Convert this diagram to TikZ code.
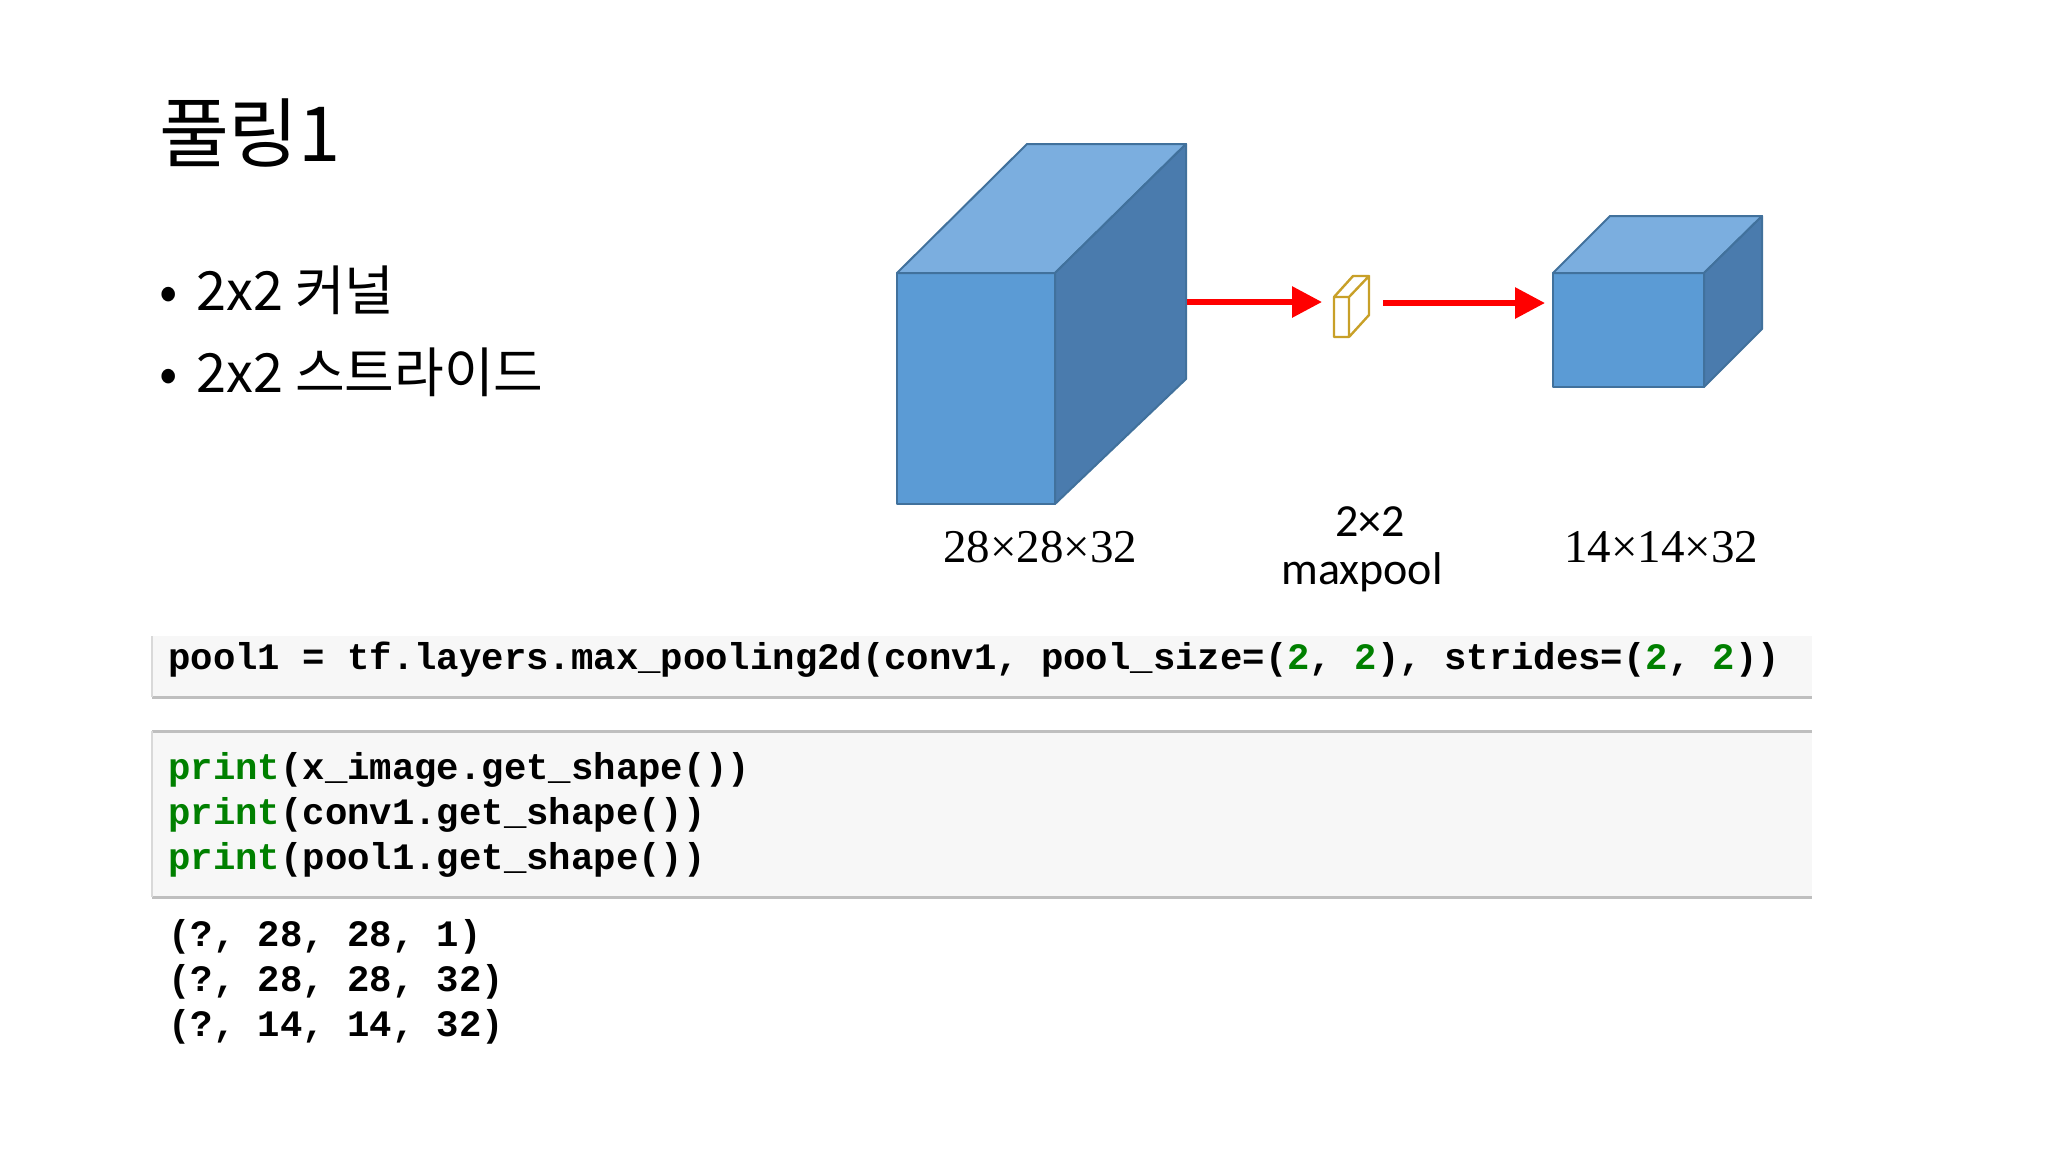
\documentclass[tikz,border=0pt]{standalone}
\usepackage{fontspec}
\setmainfont{Liberation Serif}
\newfontfamily\krfont{Noto Sans CJK KR}
\newfontfamily\calfont{Carlito}
\newfontfamily\monofont{Liberation Mono}
\usetikzlibrary{arrows.meta}
\definecolor{front}{HTML}{5B9BD5}
\definecolor{topc}{HTML}{7BAEDF}
\definecolor{side}{HTML}{4A7BAD}
\definecolor{edge}{HTML}{41719C}
\definecolor{pygreen}{HTML}{008000}
\definecolor{codebg}{HTML}{F7F7F7}
\tikzset{
  face/.style={draw=edge, line width=1pt, line join=round},
  redarrow/.style={draw=red, line width=3pt, -{Triangle[length=15pt,width=15pt]}},
  codetxt/.style={anchor=west, inner sep=0, font=\monofont\bfseries\fontsize{18.65pt}{20pt}\selectfont},
  lab/.style={font=\fontsize{23.5pt}{28pt}\selectfont},
  bul/.style={anchor=west, font=\krfont\fontsize{27pt}{32pt}\selectfont},
}
\begin{document}
\begin{tikzpicture}[x=0.5pt,y=-0.5pt]
\useasboundingbox (0,0) rectangle (2048,1152);
% title and bullets
\node[anchor=west, font=\krfont\fontsize{38pt}{44pt}\selectfont] (title) at (152,133) {풀링1};
\node[bul] (b1) at (152,290) {•\hspace{0.35em}2x2 커널};
\node[bul] (b2) at (152,372) {•\hspace{0.35em}2x2 스트라이드};
% big cube
\fill[front, face] (897,273) rectangle (1055,504);
\fill[topc, face] (897,273) -- (1027,144) -- (1186,144) -- (1055,273) -- cycle;
\fill[side, face] (1055,273) -- (1186,144) -- (1186,379) -- (1055,504) -- cycle;
\coordinate (c1) at (1187,302);
% small kernel box
\draw[draw={rgb,255:red,200;green,160;blue,40}, line width=1.2pt, fill=white, line join=round]
  (1334,297) rectangle (1349,337)
  (1334,297) -- (1353,276) -- (1369,276) -- (1349,297)
  (1349,337) -- (1369,315) -- (1369,276);
\coordinate (k1) at (1322,302);
\coordinate (k2) at (1383,303);
% small cube
\fill[front, face] (1553,273) rectangle (1704,387);
\fill[topc, face] (1553,273) -- (1610,216) -- (1762,216) -- (1704,273) -- cycle;
\fill[side, face] (1704,273) -- (1762,216) -- (1762,329) -- (1704,387) -- cycle;
\coordinate (c2) at (1545,303);
\draw[redarrow] (c1) -- (k1);
\draw[redarrow] (k2) -- (c2);
% labels
\node[lab] (l1) at (1040,547) {28×28×32};
\node[lab, font=\calfont\fontsize{23pt}{27pt}\selectfont] (l2) at (1370,522) {2×2};
\node[lab, font=\calfont\fontsize{23pt}{27pt}\selectfont] (l3) at (1362,572) {maxpool};
\node[lab] (l4) at (1661,547) {14×14×32};
% code cells
\fill[codebg] (152,636) rectangle (1812,697);
\draw[gray!50, line width=1.5pt] (152,697) -- (1812,697);
\draw[gray!30, line width=1pt] (152,636) -- (152,697);
\node[codetxt] (code1) at (168,660) {pool1 = tf.layers.max\_pooling2d(conv1, pool\_size=(\textcolor{pygreen}{2}, \textcolor{pygreen}{2}), strides=(\textcolor{pygreen}{2}, \textcolor{pygreen}{2}))};
\fill[codebg] (152,731) rectangle (1812,897);
\draw[gray!50, line width=1.5pt] (152,731) -- (1812,731) (152,897) -- (1812,897);
\draw[gray!30, line width=1pt] (152,731) -- (152,897);
\node[codetxt] (p1) at (168,770) {\textcolor{pygreen}{print}(x\_image.get\_shape())};
\node[codetxt] (p2) at (168,815) {\textcolor{pygreen}{print}(conv1.get\_shape())};
\node[codetxt] (p3) at (168,860) {\textcolor{pygreen}{print}(pool1.get\_shape())};
\node[codetxt] (o1) at (168,937) {(?, 28, 28, 1)};
\node[codetxt] (o2) at (168,982) {(?, 28, 28, 32)};
\node[codetxt] (o3) at (168,1027) {(?, 14, 14, 32)};
\end{tikzpicture}
\end{document}
